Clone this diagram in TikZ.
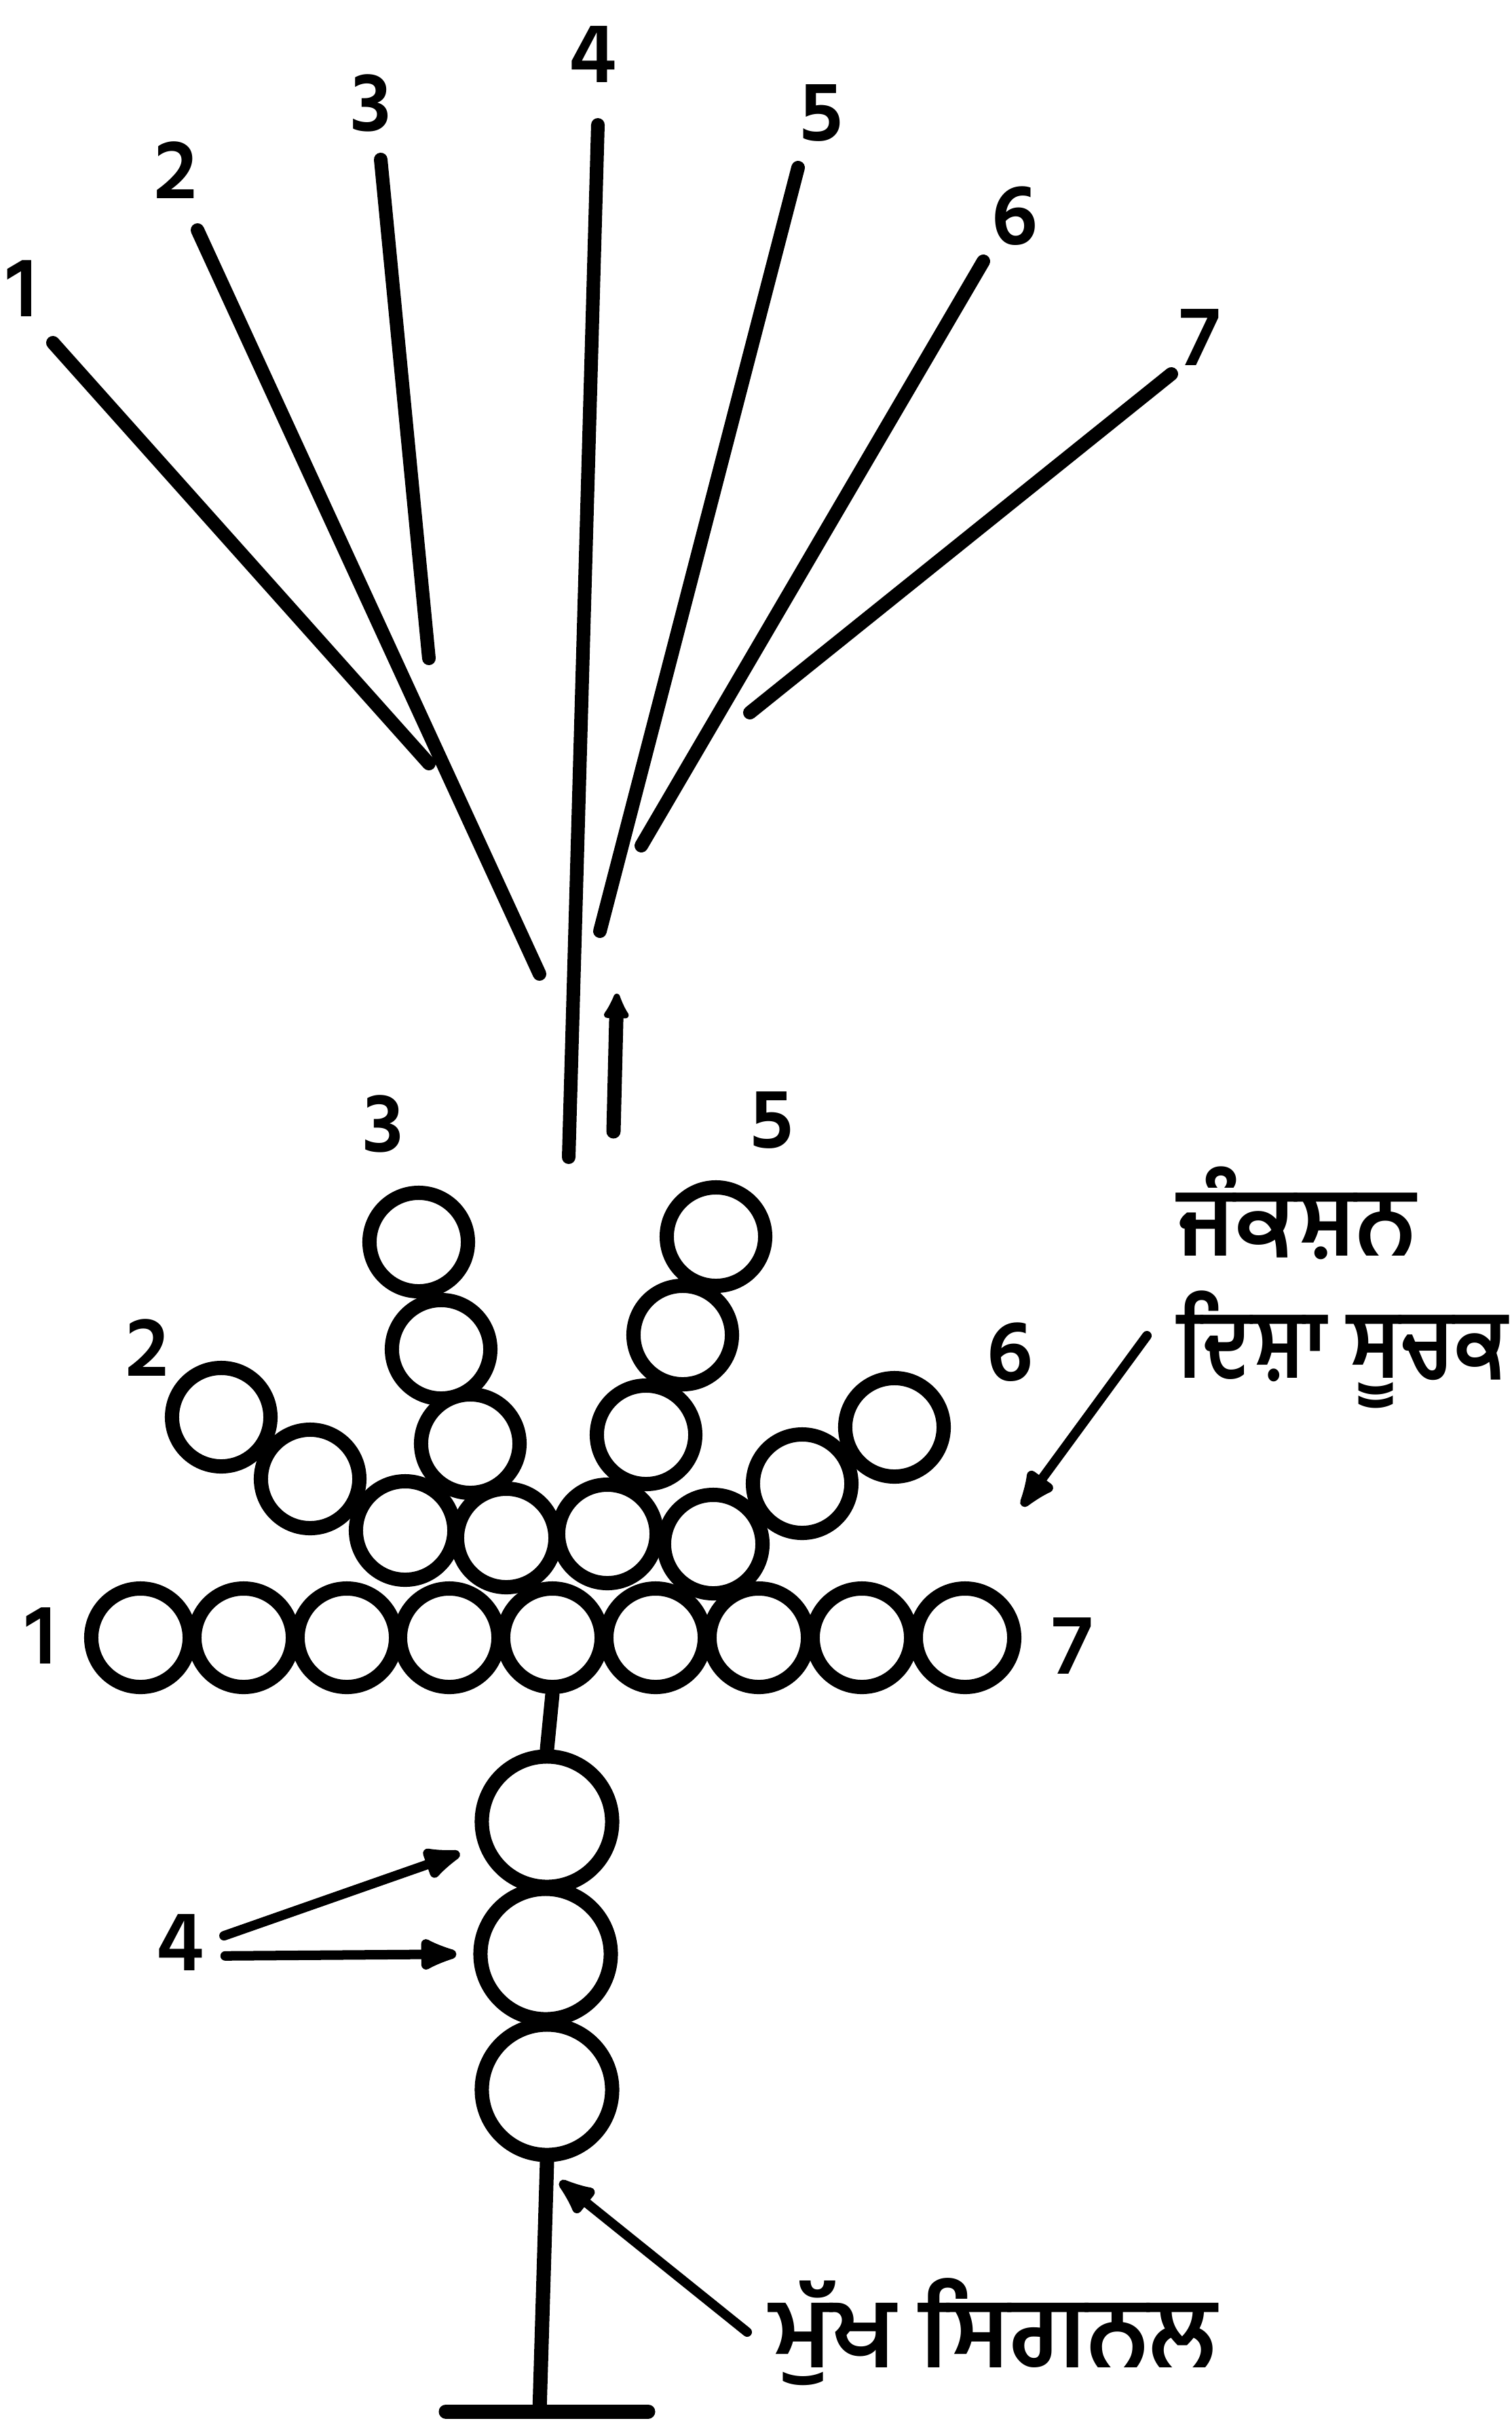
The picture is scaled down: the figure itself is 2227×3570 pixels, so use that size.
\documentclass[tikz,border=0pt]{standalone}
\usepackage{fontspec}
\usetikzlibrary{arrows.meta}
\newfontfamily\gurmukhi[Script=Gurmukhi]{Hind Jalandhar}
\newfontfamily\gurnarrow[Script=Gurmukhi, FakeStretch=0.88]{Hind Jalandhar}

\begin{document}
\begin{tikzpicture}[
    x=0.01cm, y=-0.01cm,
    >={Latex[round]},
    % Node styles
    lamp/.style={circle, draw, line width=2.1mm, minimum size=1.45cm, inner sep=0pt},
    biglamp/.style={lamp, minimum size=1.92cm},
    digit/.style={font=\gurmukhi\bfseries\fontsize{36}{36}\selectfont, inner sep=0pt},
    gurlabel/.style={font=\bfseries\fontsize{40}{51}\selectfont, inner sep=0pt, align=left},
    % Line styles
    feather/.style={line width=2mm, line cap=round},
    post/.style={line width=2.1mm, line cap=round},
    pointer/.style={->, line width=1.4mm, line cap=round},
]
\useasboundingbox (0,0) rectangle (2227,3570);

% Route indicator feathers
\coordinate (f1top) at (78,505);   \coordinate (f1end) at (632,1125);
\coordinate (f2top) at (291,339);  \coordinate (f2end) at (795,1435);
\coordinate (f3top) at (561,235);  \coordinate (f3end) at (632,970);
\coordinate (f4top) at (881,184);  \coordinate (f4end) at (838,1705);
\coordinate (f5top) at (1176,247); \coordinate (f5end) at (884,1372);
\coordinate (f6top) at (1449,385); \coordinate (f6end) at (945,1246);
\coordinate (f7top) at (1726,551); \coordinate (f7end) at (1105,1050);

\draw [feather] (f1top) -- (f1end);
\draw [feather] (f2top) -- (f2end);
\draw [feather] (f3top) -- (f3end);
\draw [feather] (f4top) -- (f4end);
\draw [feather] (f5top) -- (f5end);
\draw [feather] (f6top) -- (f6end);
\draw [feather] (f7top) -- (f7end);

% Feather numbers
\node[digit] (t1) at (32,425) {1};
\node[digit] (t2) at (259,251) {2};
\node[digit] (t3) at (547,152) {3};
\node[digit] (t4) at (874,80) {4};
\node[digit] (t5) at (1210,166) {5};
\node[digit] (t6) at (1495,318) {6};
\node[digit] (t7) at (1768,497) {7};

% Direction of view
\coordinate (uptail) at (904,1667);
\coordinate (uptip) at (909,1464);
\draw [->, post, arrows={-Latex[round, length=4.6mm, width=4.6mm]}] (uptail) -- (uptip);

% Lamp rows
\node[lamp] (b1) at (207,2413) {};
\node[lamp] (b2) at (359,2413) {};
\node[lamp] (b3) at (511,2413) {};
\node[lamp] (b4) at (662,2413) {};
\node[lamp] (b5) at (814,2413) {};
\node[lamp] (b6) at (966,2413) {};
\node[lamp] (b7) at (1118,2413) {};
\node[lamp] (b8) at (1270,2413) {};
\node[lamp] (b9) at (1422,2413) {};

\node[lamp] (r1) at (597,2255) {};
\node[lamp] (r2) at (746,2266) {};
\node[lamp] (r3) at (895,2260) {};
\node[lamp] (r4) at (1051,2275) {};

% Branch lamps
\node[lamp] (l2a) at (457,2179) {};
\node[lamp] (l2b) at (326,2088) {};
\node[lamp] (l3a) at (693,2127) {};
\node[lamp] (l3b) at (650,1988) {};
\node[lamp] (l3c) at (617,1830) {};
\node[lamp] (l5a) at (952,2114) {};
\node[lamp] (l5b) at (1006,1967) {};
\node[lamp] (l5c) at (1055,1822) {};
\node[lamp] (l6a) at (1182,2186) {};
\node[lamp] (l6b) at (1318,2103) {};

% Branch numbers
\node[digit] (c1) at (60,2410) {1};
\node[digit] (c2) at (217,1986) {2};
\node[digit] (c3) at (565,1656) {3};
\node[digit] (c5) at (1137,1650) {5};
\node[digit] (c6) at (1488,1992) {6};
\node[digit] (c7) at (1580,2425) {7};

% Main signal
\node[biglamp] (s1) at (806,2684) {};
\node[biglamp] (s2) at (804,2879) {};
\node[biglamp] (s3) at (806,3079) {};
\coordinate (footmid) at (795,3553);
\coordinate (footl) at (657,3553);
\coordinate (footr) at (955,3553);

\draw [post] (b5.south) -- (s1.north);
\draw [post] (s3.south) -- (footmid);
\draw [post] (footl) -- (footr);

% Labels and pointers
\node[digit] (four) at (266,2862) {4};
\draw [pointer, shorten <=3mm, shorten >=3mm] (four.east) -- (s1.200);
\draw [pointer, shorten <=3mm, shorten >=2.5mm] ([yshift=-2mm]four.east) -- (s2.west);

\node[gurlabel, anchor=base west] (junction) at (1735,2030) {{\gurmukhi ਜੰਕਸ਼ਨ}\\{\gurnarrow ਦਿਸ਼ਾ ਸੂਚਕ}};
\coordinate (jtail) at (1690,1968);
\coordinate (jtip) at (1506,2219);
\draw [pointer] (jtail) -- (jtip);

\node[gurlabel, anchor=base west, font=\gurmukhi\bfseries\fontsize{41}{51}\selectfont] (mainsig) at (1134,3488) {ਮੁੱਖ ਸਿਗਨਲ};
\coordinate (sigtail) at (1101,3436);
\coordinate (sigtip) at (825,3214);
\draw [pointer] (sigtail) -- (sigtip);

\end{tikzpicture}
\end{document}
